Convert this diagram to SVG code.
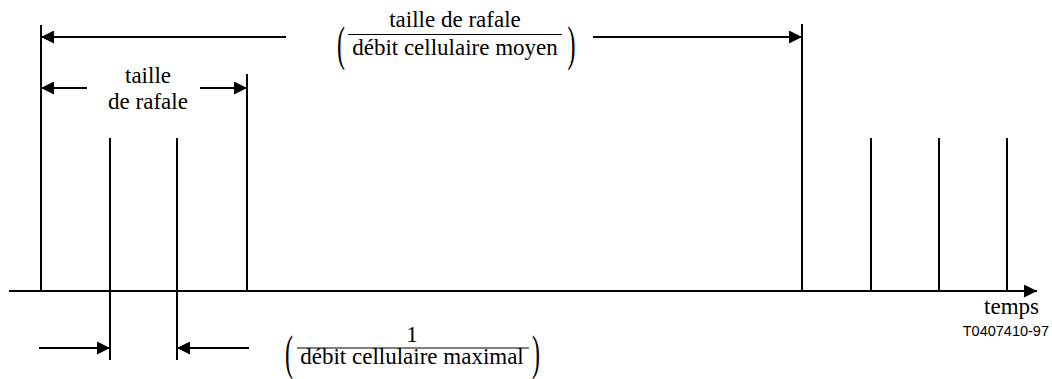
<svg xmlns="http://www.w3.org/2000/svg" width="1052" height="379" viewBox="0 0 1052 379">
  <style>
    .ln { stroke: #000; stroke-width: 2; fill: none; }
    .bar { stroke: #000; stroke-width: 1.2; fill: none; }
    .t { font-family: "Liberation Serif", "Times New Roman", serif; font-size: 23px; fill: #000; }
    .p { font-family: "Liberation Serif", "Times New Roman", serif; font-size: 48px; fill: #000; }
    .ref { font-family: "Liberation Sans", Arial, sans-serif; font-size: 14.5px; fill: #000; }
  </style>
  <defs>
    <marker id="ah" markerUnits="userSpaceOnUse" markerWidth="14" markerHeight="13" refX="13" refY="6.5" orient="auto" viewBox="0 0 14 13">
      <path d="M0,0 L13,6.5 L0,13 z" fill="#000"/>
    </marker>
  </defs>

  <!-- time axis -->
  <g id="axis">
    <line class="ln" x1="9" y1="291" x2="1037" y2="291" marker-end="url(#ah)"/>
    <text class="t" x="1039" y="314" text-anchor="end">temps</text>
  </g>

  <!-- cell instants -->
  <g id="cells">
    <line class="ln" x1="41" y1="25" x2="41" y2="291"/>
    <line class="ln" x1="110" y1="138" x2="110" y2="360"/>
    <line class="ln" x1="177" y1="138" x2="177" y2="360"/>
    <line class="ln" x1="247" y1="74" x2="247" y2="291"/>
    <line class="ln" x1="802" y1="24" x2="802" y2="291"/>
    <line class="ln" x1="871" y1="138" x2="871" y2="291"/>
    <line class="ln" x1="939" y1="138" x2="939" y2="291"/>
    <line class="ln" x1="1007" y1="138" x2="1007" y2="291"/>
  </g>

  <!-- dimension arrows -->
  <g id="connectors">
    <line class="ln" x1="286" y1="37" x2="41" y2="37" marker-end="url(#ah)"/>
    <line class="ln" x1="593" y1="37" x2="802" y2="37" marker-end="url(#ah)"/>
    <line class="ln" x1="87" y1="88" x2="41" y2="88" marker-end="url(#ah)"/>
    <line class="ln" x1="200" y1="88" x2="247" y2="88" marker-end="url(#ah)"/>
    <line class="ln" x1="39" y1="348" x2="110" y2="348" marker-end="url(#ah)"/>
    <line class="ln" x1="249" y1="348" x2="177" y2="348" marker-end="url(#ah)"/>
  </g>

  <!-- burst size label -->
  <g id="burst">
    <text class="t" x="148" y="83" text-anchor="middle">taille</text>
    <text class="t" x="148" y="109" text-anchor="middle">de rafale</text>
  </g>

  <!-- burst period fraction -->
  <g id="period">
    <text class="t" x="455" y="27" text-anchor="middle">taille de rafale</text>
    <line class="bar" x1="348" y1="34.5" x2="562" y2="34.5"/>
    <text class="t" x="455" y="55" text-anchor="middle">débit cellulaire moyen</text>
    <text class="p" transform="translate(341,60) scale(0.5,1)" text-anchor="middle">(</text>
    <text class="p" transform="translate(571.5,60) scale(0.5,1)" text-anchor="middle">)</text>
  </g>

  <!-- minimum cell spacing fraction -->
  <g id="spacing">
    <text class="t" x="412" y="342" text-anchor="middle">1</text>
    <line class="bar" x1="297" y1="348" x2="529" y2="348"/>
    <text class="t" x="412" y="364" text-anchor="middle">débit cellulaire maximal</text>
    <text class="p" transform="translate(289,369) scale(0.5,1)" text-anchor="middle">(</text>
    <text class="p" transform="translate(536,369) scale(0.5,1)" text-anchor="middle">)</text>
  </g>

  <text class="ref" x="1049" y="336" text-anchor="end">T0407410-97</text>
</svg>
